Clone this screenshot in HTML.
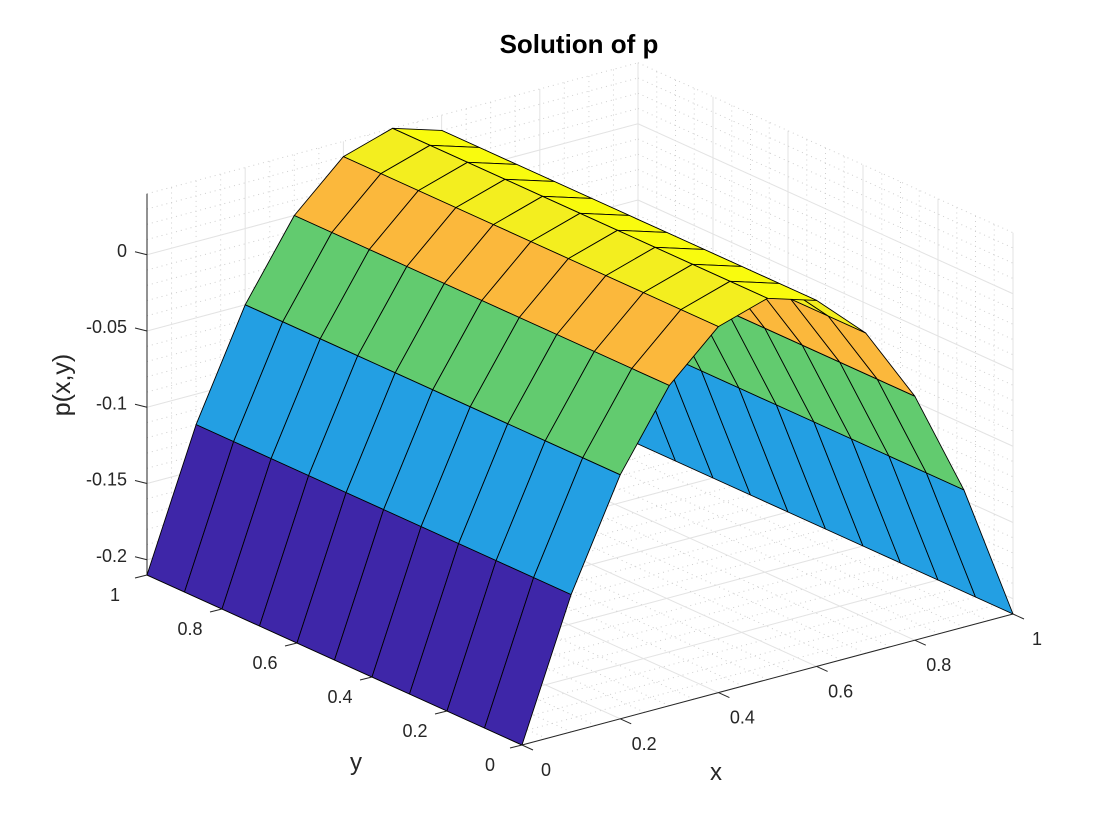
<!DOCTYPE html>
<html><head><meta charset="utf-8"><style>
html,body{margin:0;padding:0;background:#fff;}
svg{display:block;font-family:"Liberation Sans",Arial,sans-serif;}
</style></head><body>
<svg id="chart" width="1120" height="840" viewBox="0 0 1120 840" xmlns="http://www.w3.org/2000/svg">
<rect width="1120" height="840" fill="#fff"/>
<g id="grid"></g>
<g id="axes"></g>
<g id="surf"></g>
<g id="labels"></g>
<text x="579" y="53" text-anchor="middle" font-size="26" font-weight="bold" fill="#000">Solution of p</text>
<text x="716" y="780" text-anchor="middle" font-size="24" fill="#262626">x</text>
<text x="356" y="770" text-anchor="middle" font-size="24" fill="#262626">y</text>
<text x="0" y="0" transform="translate(70,385) rotate(-90)" text-anchor="middle" font-size="25" fill="#262626">p(x,y)</text>
</svg>
<script>
const xValues = [0,0.1,0.2,0.3,0.4,0.5,0.6,0.7,0.8,0.9,1];
const yValues = [0,0.1,0.2,0.3,0.4,0.5,0.6,0.7,0.8,0.9,1];
const pValues = [-0.21,-0.12,-0.05,0,0.03,0.04,0.03,0,-0.05,-0.12,-0.21];
const xTicks = [0,0.2,0.4,0.6,0.8,1];
const yTicks = [0,0.2,0.4,0.6,0.8,1];
const zTicks = [-0.2,-0.15,-0.1,-0.05,0];
const xTickLabels = ["0","0.2","0.4","0.6","0.8","1"];
const yTickLabels = ["0","0.2","0.4","0.6","0.8","1"];
const zTickLabels = ["-0.2","-0.15","-0.1","-0.05","0"];

const zMin = -0.21, zMax = 0.04;
const NS = "http://www.w3.org/2000/svg";
function P(x,y,z){ return [522 + 491*x - 375*y, 745 - 131*x - 170*y - (z - zMin)*1525]; }
function mk(tag, attrs, parent){ const e=document.createElementNS(NS,tag); for(const k in attrs) e.setAttribute(k,attrs[k]); parent.appendChild(e); return e; }
function line(p,q,stroke,w,dash,parent){ return mk('line',{x1:p[0],y1:p[1],x2:q[0],y2:q[1],stroke:stroke,'stroke-width':w,'stroke-dasharray':dash||'none'},parent); }

const grid=document.getElementById('grid');
const minorC='#cfcfcf', majorC='#e3e3e3', dash='1,4';
for(let k=0;k<=20;k++){ const v=k*0.05; const isMaj=Math.abs(v*5-Math.round(v*5))<1e-6;
  const c=isMaj?majorC:minorC, d=isMaj?null:dash;
  let el;
  el=line(P(v,0,zMin),P(v,1,zMin),c,1,d,grid);
   
  el=line(P(v,1,zMin),P(v,1,zMax),c,1,d,grid);
   
  el=line(P(0,v,zMin),P(1,v,zMin),c,1,d,grid);
   
  el=line(P(1,v,zMin),P(1,v,zMax),c,1,d,grid);
   
}
for(let k=-21;k<=4;k++){ const v=k*0.01; const isMaj=(k%5===0);
  const c=isMaj?majorC:minorC, d=isMaj?null:dash;
  let el=line(P(0,1,v),P(1,1,v),c,1,d,grid);
   
  el=line(P(1,1,v),P(1,0,v),c,1,d,grid);
   
}

const axes=document.getElementById('axes');
const ac='#262626';
let a=line(P(0,0,zMin),P(1,0,zMin),ac,1,null,axes);  
a=line(P(0,0,zMin),P(0,1,zMin),ac,1,null,axes);  
a=line(P(0,1,zMin),P(0,1,zMax),ac,1,null,axes);  
const labels=document.getElementById('labels');
function txt(s,x,y,anchor){ const t=mk('text',{x:x,y:y,'text-anchor':anchor,'font-size':18,fill:'#262626'},labels); t.textContent=s; return t; }
xTicks.forEach((v,i)=>{ const p=P(v,0,zMin); const t=line(p,[p[0]+11,p[1]+5],ac,1,null,axes);
   
  const l=txt(xTickLabels[i],p[0]+24,p[1]+31,'middle');
    });
yTicks.forEach((v,i)=>{ const p=P(0,v,zMin); const t=line(p,[p[0]-12,p[1]+3],ac,1,null,axes);
   
  const l=txt(yTickLabels[i],p[0]-32,p[1]+26,'middle');
    });
zTicks.forEach((v,i)=>{ const p=P(0,1,v); const t=line(p,[p[0]-12,p[1]-3],ac,1,null,axes);
   
  const l=txt(zTickLabels[i],p[0]-20,p[1]+2,'end');
    });

const stops=[[0,[62,38,168]],[0.36,[35,159,227]],[0.64,[98,203,111]],[0.84,[251,184,60]],[0.96,[243,238,31]],[1,[249,251,14]]];
function cmap(v){ let t=(v-zMin)/(zMax-zMin); t=Math.max(0,Math.min(1,t));
  for(let i=1;i<stops.length;i++){ if(t<=stops[i][0]){ const a=stops[i-1],b=stops[i]; const f=(t-a[0])/(b[0]-a[0]);
    const c=a[1].map((q,k)=>Math.round(q+(b[1][k]-q)*f)); return 'rgb('+c.join(',')+')'; } }
  return 'rgb(249,251,14)'; }

const surf=document.getElementById('surf');
const faces=[];
for(let i=0;i<xValues.length-1;i++){ for(let j=0;j<yValues.length-1;j++){
  const x0=xValues[i],x1=xValues[i+1],y0=yValues[j],y1=yValues[j+1];
  const z0=pValues[i],z1=pValues[i+1];
  const pts=[P(x0,y0,z0),P(x1,y0,z1),P(x1,y1,z1),P(x0,y1,z0)];
  const cx=(x0+x1)/2, cy=(y0+y1)/2, cz=(z0+z1)/2;
  faces.push({pts:pts,depth:0.764*cx+cy-0.18*cz,color:cmap(z0)});
}}
faces.sort((a,b)=>b.depth-a.depth);
faces.forEach(f=>{ const poly=mk('polygon',{points:f.pts.map(p=>p[0].toFixed(1)+','+p[1].toFixed(1)).join(' '),fill:f.color,stroke:'#000','stroke-width':0.9,'stroke-linejoin':'round'},surf);
  
   });
</script>
</body></html>
